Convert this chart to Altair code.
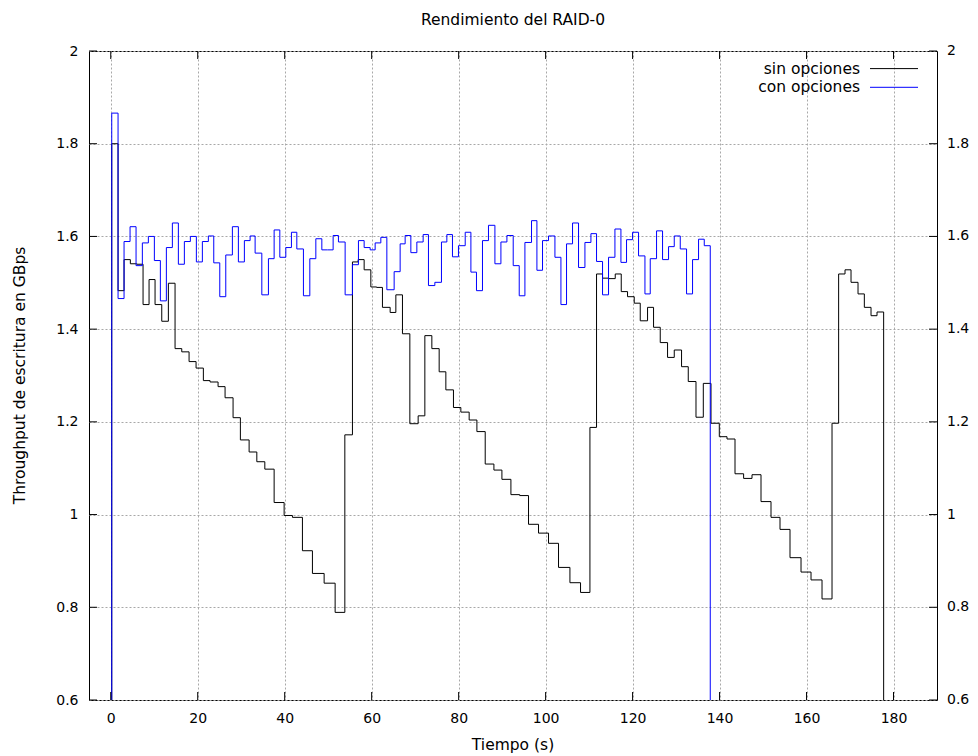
import altair as alt
import pandas as pd

# ---------------- text ----------------
chart_title = "Rendimiento del RAID-0"
x_title = "Tiempo (s)"
y_title = "Throughput de escritura en GBps"
series_names = ["sin opciones", "con opciones"]
series_colors = ["#000000", "#0000ff"]

# ---------------- axes ----------------
x_ticks = [0, 20, 40, 60, 80, 100, 120, 140, 160, 180]
y_ticks = [0.6, 0.8, 1.0, 1.2, 1.4, 1.6, 1.8, 2.0]
x_domain = [-5, 190]
y_domain = [0.6, 2.0]

# ---------------- data: "sin opciones" (step start times, values) ----------------
black_t = [0.23, 1.68, 3.06, 4.51, 5.97, 7.43, 8.81, 10.19, 11.73, 13.25,
           14.79, 16.33, 18.01, 19.62, 21.30, 22.84, 24.68, 26.29, 28.13, 29.81,
           31.82, 33.59, 35.43, 37.57, 39.87, 41.78, 44.08, 46.38, 49.07, 51.60,
           53.83, 55.58, 56.89, 58.27, 59.81, 61.15, 62.48, 64.25, 65.56, 67.08,
           68.78, 70.69, 72.23, 73.84, 75.52, 77.06, 78.81, 80.51, 82.42, 84.20,
           86.11, 88.11, 89.95, 92.02, 94.04, 96.07, 98.37, 100.67, 102.97, 105.59,
           108.03, 110.19, 111.71, 113.09, 114.55, 116.01, 117.39, 118.84, 120.38, 121.76,
           123.44, 124.82, 126.36, 128.04, 129.58, 131.26, 132.80, 134.58, 136.26, 138.03,
           139.94, 141.71, 143.55, 145.53, 147.46, 149.53, 151.83, 153.90, 156.20, 158.73,
           161.03, 163.56, 165.86, 167.38, 168.85, 170.23, 171.84, 173.29, 174.83, 176.21]
black_v = [1.800, 1.483, 1.550, 1.541, 1.540, 1.453, 1.507, 1.453, 1.417, 1.499,
           1.358, 1.351, 1.330, 1.316, 1.289, 1.286, 1.276, 1.252, 1.209, 1.161,
           1.135, 1.114, 1.098, 1.026, 0.998, 0.994, 0.922, 0.873, 0.852, 0.789,
           1.172, 1.545, 1.550, 1.528, 1.491, 1.490, 1.447, 1.436, 1.474, 1.390,
           1.196, 1.213, 1.386, 1.358, 1.308, 1.269, 1.231, 1.221, 1.204, 1.179,
           1.109, 1.096, 1.076, 1.043, 1.041, 0.979, 0.960, 0.938, 0.886, 0.853,
           0.832, 1.188, 1.519, 1.510, 1.509, 1.519, 1.481, 1.470, 1.456, 1.418,
           1.447, 1.404, 1.371, 1.339, 1.355, 1.319, 1.287, 1.210, 1.283, 1.197,
           1.168, 1.163, 1.088, 1.078, 1.086, 1.028, 0.994, 0.968, 0.907, 0.876,
           0.859, 0.818, 1.197, 1.519, 1.528, 1.501, 1.476, 1.447, 1.429, 1.437]
black_end = 177.73

# ---------------- data: "con opciones" ----------------
blue_t = [0.23, 1.68, 3.06, 4.44, 5.82, 7.27, 8.65, 10.03, 11.41, 12.79,
          14.17, 15.55, 16.93, 18.31, 19.69, 21.07, 22.45, 23.69, 25.07, 26.45,
          27.97, 29.35, 30.73, 32.05, 33.20, 34.74, 36.26, 37.57, 38.88, 40.26,
          41.55, 42.79, 44.31, 45.78, 47.16, 48.54, 49.83, 51.14, 52.36, 53.90,
          55.58, 56.96, 58.27, 59.65, 60.80, 62.11, 63.49, 65.17, 66.55, 67.70,
          69.01, 70.39, 71.84, 73.06, 74.53, 76.05, 77.29, 78.58, 79.96, 81.51,
          82.82, 84.10, 85.48, 86.86, 88.34, 89.72, 91.10, 92.55, 93.93, 95.24,
          96.76, 98.00, 99.29, 100.67, 102.14, 103.52, 104.81, 106.19, 107.57, 109.04,
          110.42, 111.71, 113.09, 114.47, 115.94, 117.32, 118.61, 119.99, 121.37, 122.84,
          124.06, 125.51, 126.89, 128.27, 129.58, 130.96, 132.41, 133.79, 135.17, 136.48]
blue_v = [1.866, 1.466, 1.589, 1.621, 1.537, 1.586, 1.600, 1.548, 1.461, 1.576,
          1.629, 1.540, 1.589, 1.600, 1.545, 1.589, 1.601, 1.543, 1.470, 1.560,
          1.621, 1.545, 1.591, 1.601, 1.564, 1.474, 1.552, 1.614, 1.555, 1.576,
          1.609, 1.573, 1.472, 1.552, 1.595, 1.571, 1.571, 1.602, 1.588, 1.474,
          1.539, 1.591, 1.576, 1.571, 1.586, 1.598, 1.485, 1.524, 1.584, 1.602,
          1.565, 1.588, 1.604, 1.494, 1.501, 1.588, 1.604, 1.556, 1.580, 1.609,
          1.523, 1.483, 1.591, 1.624, 1.541, 1.588, 1.602, 1.537, 1.472, 1.587,
          1.634, 1.527, 1.591, 1.601, 1.555, 1.453, 1.584, 1.629, 1.533, 1.587,
          1.606, 1.546, 1.474, 1.555, 1.616, 1.544, 1.593, 1.609, 1.558, 1.476,
          1.552, 1.612, 1.550, 1.578, 1.601, 1.573, 1.476, 1.550, 1.594, 1.580]
blue_end = 137.86

assert len(black_t) == len(black_v) and len(blue_t) == len(blue_v)


def series_frame(name, ts, vs, t_end):
    base = y_domain[0]
    tt = [ts[0]] + list(ts) + [t_end, t_end]
    vv = [base] + list(vs) + [vs[-1], base]
    return pd.DataFrame({"t": tt, "v": vv, "i": list(range(len(tt))), "serie": name})


df_black = series_frame(series_names[0], black_t, black_v, black_end)
df_blue = series_frame(series_names[1], blue_t, blue_v, blue_end)

W, H = 848, 649
FONT = "DejaVu Sans"
FS_TICK = 14
FS_TEXT = 15.5

x_scale = alt.Scale(domain=x_domain, nice=False, zero=False)
y_scale = alt.Scale(domain=y_domain, nice=False, zero=False)

x_axis = alt.Axis(values=x_ticks, title=None, grid=True, ticks=False, tickSize=0,
                  domain=False, labelPadding=11, format="d")
y_axis = alt.Axis(values=y_ticks, title=None, grid=True, ticks=False, tickSize=0,
                  domain=False, labelPadding=11, format="~g")


def X():
    return alt.X("t:Q", scale=x_scale, axis=x_axis)


def Y():
    return alt.Y("v:Q", scale=y_scale, axis=y_axis)


def line_layer(df, color):
    return alt.Chart(df).mark_line(interpolate="step-after", strokeWidth=1, color=color).encode(
        x=X(), y=Y(), order="i:Q"
    )


black_line = line_layer(df_black, series_colors[0])
blue_line = line_layer(df_blue, series_colors[1])

xt_df = pd.DataFrame({"t": x_ticks})
yt_df = pd.DataFrame({"v": y_ticks})
TL = 8

tick_bottom = alt.Chart(xt_df).mark_rule(color="black", strokeWidth=1).encode(
    x=X(), y=alt.value(H), y2=alt.value(H - TL))
tick_top = alt.Chart(xt_df).mark_rule(color="black", strokeWidth=1).encode(
    x=X(), y=alt.value(0), y2=alt.value(TL))
tick_left = alt.Chart(yt_df).mark_rule(color="black", strokeWidth=1).encode(
    y=Y(), x=alt.value(0), x2=alt.value(TL))
tick_right = alt.Chart(yt_df).mark_rule(color="black", strokeWidth=1).encode(
    y=Y(), x=alt.value(W), x2=alt.value(W - TL))
right_labels = alt.Chart(yt_df).mark_text(align="left", baseline="middle", font=FONT,
                                          fontSize=FS_TICK, color="black").encode(
    y=Y(), x=alt.value(W + 10), text=alt.Text("v:Q", format="~g"))

# titles as text marks
txt_df = pd.DataFrame({"label": [chart_title]})
title_layer = alt.Chart(txt_df).mark_text(align="center", baseline="middle", font=FONT,
                                          fontSize=FS_TEXT, color="black").encode(
    text="label:N", x=alt.value(W / 2), y=alt.value(-31))
xt_txt = pd.DataFrame({"label": [x_title]})
xtitle_layer = alt.Chart(xt_txt).mark_text(align="center", baseline="middle", font=FONT,
                                           fontSize=FS_TEXT, color="black").encode(
    text="label:N", x=alt.value(W / 2), y=alt.value(H + 45))
yt_txt = pd.DataFrame({"label": [y_title]})
ytitle_layer = alt.Chart(yt_txt).mark_text(align="center", baseline="middle", font=FONT,
                                           fontSize=FS_TEXT, color="black", angle=270).encode(
    text="label:N", x=alt.value(-69), y=alt.value(H / 2))

legend_layers = []
leg_y = [17.6, 36.3]
for name, col, ly in zip(series_names, series_colors, leg_y):
    ldf = pd.DataFrame({"serie": [name]})
    legend_layers.append(
        alt.Chart(ldf).mark_text(align="right", baseline="middle", font=FONT, fontSize=FS_TEXT,
                                 color="black").encode(
            text="serie:N", x=alt.value(771), y=alt.value(ly)))
    legend_layers.append(
        alt.Chart(ldf).mark_rule(color=col, strokeWidth=1).encode(
            x=alt.value(781), x2=alt.value(829), y=alt.value(ly)))

chart = alt.layer(
    black_line, blue_line, tick_bottom, tick_top, tick_left, tick_right, right_labels,
    title_layer, xtitle_layer, ytitle_layer, *legend_layers
).properties(
    width=W, height=H,
    padding={"left": 81, "top": 43, "right": 33, "bottom": 56},
    autosize=alt.AutoSizeParams(type="none"),
).configure_view(
    stroke="black", strokeWidth=1
).configure_axis(
    labelFont=FONT, labelFontSize=FS_TICK, labelColor="black",
    gridColor="#a8a8a8", gridDash=[2, 2], gridWidth=1, gridOpacity=1,
)

chart.save("out.html", embed_options={"renderer": "svg", "actions": False})
